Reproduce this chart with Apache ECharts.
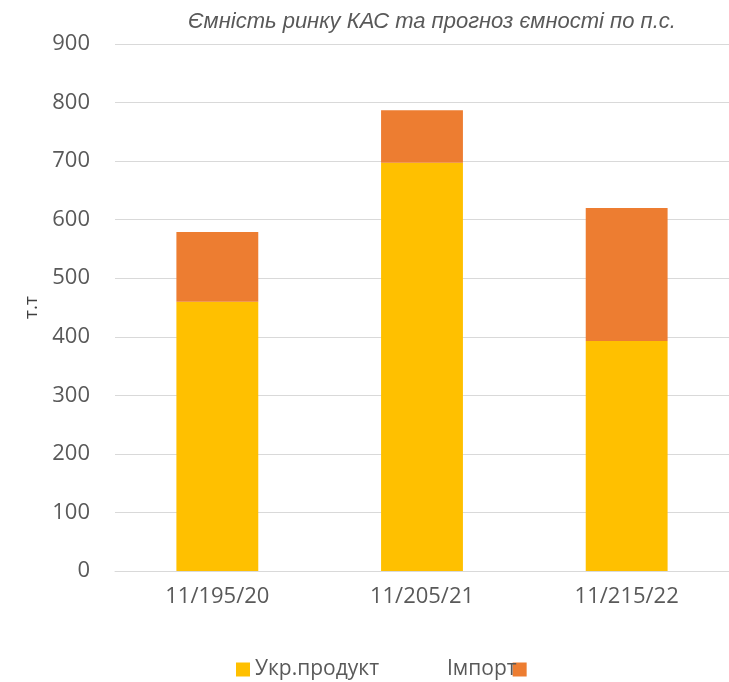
<!DOCTYPE html>
<html>
<head>
<meta charset="utf-8">
<script src="https://cdn.jsdelivr.net/npm/echarts@6/dist/echarts.min.js"></script>
<style>
  html, body { margin: 0; padding: 0; background: #fff; }
  #chartmain { width: 729px; height: 682px; }
</style>
</head>
<body>
<div id="chartmain"></div>
<script>
// дані графіка
const categories = ['11/195/20', '11/205/21', '11/215/22'];
const ukrProduct = [460, 697, 393];
const importVals = [119, 90, 227];
const yTicks = [0, 900, 100]; // min, max, interval

const chart = echarts.init(document.getElementById('chartmain'));

const labelColor = '#595959';
const font = '"Open Sans", "Noto Sans", sans-serif';

const option = {
    animation: false,
    title: {
        text: 'Ємність ринку КАС та прогноз ємності по п.с.',
        left: 183,
        top: 6,
        textStyle: {
            color: labelColor,
            fontFamily: '"Liberation Sans", Arial, sans-serif',
            fontStyle: 'italic',
            fontWeight: 'normal',
            fontSize: 22
        }
    },
    legend: [
        {
            data: ['Укр.продукт'],
            left: 231,
            top: 654,
            align: 'left',
            itemWidth: 14,
            itemHeight: 14,
            icon: 'rect',
            textStyle: { color: labelColor, fontSize: 21, fontFamily: font }
        },
        {
            data: ['Імпорт'],
            left: 442,
            top: 654,
            align: 'right',
            itemWidth: 14,
            itemHeight: 14,
            icon: 'rect',
            textStyle: { color: labelColor, fontSize: 21, fontFamily: font, padding: [0, -9, 0, 0] }
        }
    ],
    grid: {
        left: 115,
        top: 44,
        width: 615,
        height: 527
    },
    xAxis: {
        type: 'category',
        data: categories,
        axisTick: { show: false },
        axisLine: { show: true, lineStyle: { color: '#d9d9d9', width: 1 } },
        axisLabel: {
            color: labelColor,
            fontSize: 22,
            fontFamily: font,
            margin: 15
        }
    },
    yAxis: {
        type: 'value',
        min: yTicks[0],
        max: yTicks[1],
        interval: yTicks[2],
        name: 'т.т',
        nameLocation: 'middle',
        nameGap: 71,
        nameRotate: 90,
        nameTextStyle: { color: '#404040', fontSize: 19, fontFamily: font },
        axisLine: { show: false },
        axisTick: { show: false },
        axisLabel: {
            color: labelColor,
            fontSize: 22,
            fontFamily: font,
            margin: 25
        },
        splitLine: { lineStyle: { color: '#d9d9d9', width: 1 } }
    },
    series: [
        {
            name: 'Укр.продукт',
            type: 'bar',
            stack: 'total',
            barWidth: '40%',
            data: ukrProduct,
            itemStyle: { color: '#ffc000' }
        },
        {
            name: 'Імпорт',
            type: 'bar',
            stack: 'total',
            barWidth: '40%',
            data: importVals,
            itemStyle: { color: '#ed7d31' }
        }
    ]
};

chart.setOption(option);
window.addEventListener('resize', function () {
    chart.resize();
});
</script>
</body>
</html>
